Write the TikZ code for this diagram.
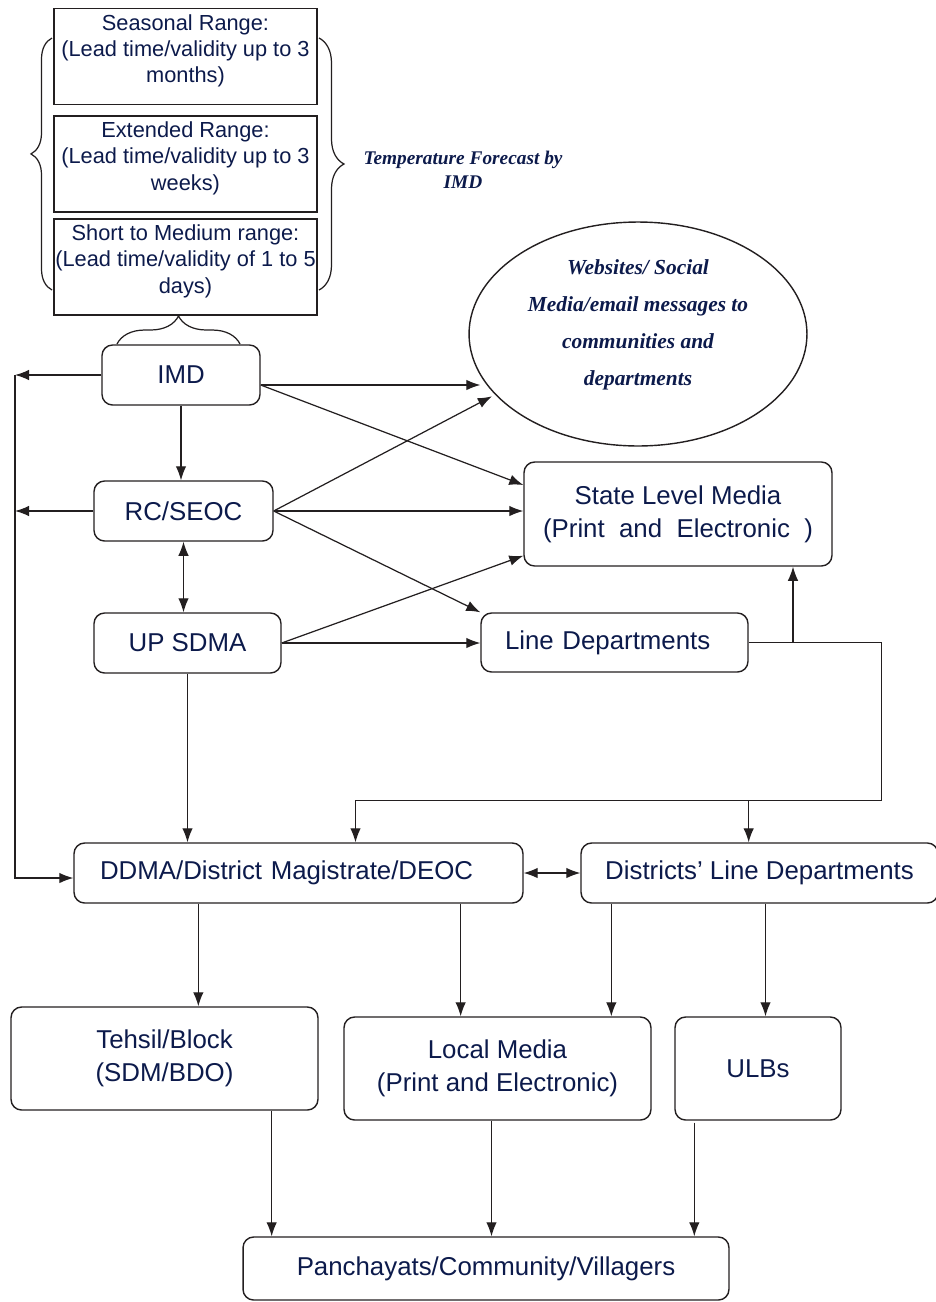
\documentclass[tikz,border=0pt]{standalone}
\usepackage{fontspec}
\setmainfont{Liberation Sans}
\newfontfamily\ovalfont{Liberation Serif}
\usepackage{xcolor}
\usetikzlibrary{calc,positioning,arrows.meta,shapes.geometric,%
    decorations.pathreplacing}
\definecolor{navy}{HTML}{0C1A4B}
\definecolor{edge}{HTML}{231F20}
\tikzstyle{line} = [draw=edge, line width=0.7pt]
\tikzset{
>={Latex[length=8pt,width=6pt]},
  rangebox/.style={
    rectangle,
    draw=edge, line width=0.8pt,
    minimum width=5.26cm,
    minimum height=1.92cm},
  rangetext/.style={
    text=navy,
    align=center,
    inner sep=3.5pt,
    font=\fontsize{12.4}{15}\selectfont},
  agency/.style={
    rectangle,
    rounded corners=6pt,
    draw=edge, line width=0.8pt,
    minimum height=1.2cm,
    text=navy,
    align=center,
    font=\fontsize{14.7}{19}\selectfont},
  leftset/.style={
    align=left,
    inner xsep=#1},
  channel/.style={
    ellipse,
    draw=edge, line width=0.8pt,
    minimum width=6.76cm,
    minimum height=4.48cm,
    inner sep=0pt},
  channeltext/.style={
    text=navy,
    align=center,
    font=\ovalfont\bfseries\itshape\fontsize{12.2}{21}\selectfont},
  tempnote/.style={
    text=navy,
    align=center,
    font=\ovalfont\bfseries\itshape\fontsize{11}{13.6}\selectfont},
  decoration={brace},
  tuborg/.style={decorate, draw=edge, line width=0.7pt},
}

\begin{document}
\begin{tikzpicture}[x=0.02cm, y=-0.02cm, node distance=0pt]
  \useasboundingbox (0,0) rectangle (936,1302);

  \node[rangebox] (seasonal) at (185.5,56.5) {};
  \node[rangebox] (extended) at (185.5,164) {};
  \node[rangebox] (shortmed) at (185.5,267) {};
  \node[rangetext, below=of seasonal.north] (seasonaltext) {Seasonal Range:\\(Lead time/validity up to 3\\months)};
  \node[rangetext, below=of extended.north] (extendedtext) {Extended Range:\\(Lead time/validity up to 3\\weeks)};
  \node[rangetext, below=of shortmed.north] (shortmedtext) {Short to Medium range:\\(Lead time/validity of 1 to 5\\days)};
  \draw[tuborg, decoration={amplitude=0.42cm, aspect=0.54}] (52,290) -- (52,38);
  \draw[tuborg, decoration={amplitude=0.5cm, aspect=0.5}] (319,38) -- (319,290);
  \draw[tuborg, decoration={amplitude=0.56cm}] (117,344) -- (240,344);
  \node[tempnote] (forecast) at (463,170) {Temperature Forecast by\\IMD};

  \node[agency, minimum width=3.16cm] (imd) at (181,375) {IMD};
  \node[agency, minimum width=3.58cm] (rcseoc) at (183.5,511) {RC/SEOC};
  \node[agency, minimum width=3.74cm] (upsdma) at (187.5,643) {UP SDMA};
  \node[channel] (websites) at (638,334) {};
  \node[channeltext] (websitestext) at ($(websites.center)+(0,-9)$) {Websites/ Social\\Media/email messages to\\communities and\\departments};
  \node[agency, minimum width=6.16cm, minimum height=2.08cm] (statemedia) at (678,514) {State Level Media\\(Print~ and~ Electronic~ )};
  \node[agency, leftset=0.48cm, text width=4.38cm, minimum height=1.18cm] (linedept) at (614.5,642.5) {Line Departments};
  \node[agency, leftset=0.52cm, text width=7.94cm] (ddma) at (298.5,873) {DDMA/District Magistrate/DEOC};
  \node[agency, minimum width=7.14cm] (dldept) at (759.5,873) {Districts' Line Departments};
  \node[agency, minimum width=6.14cm, minimum height=2.06cm] (tehsil) at (164.5,1058.5) {Tehsil/Block\\(SDM/BDO)};
  \node[agency, minimum width=6.14cm, minimum height=2.06cm] (localmedia) at (497.5,1068.5) {Local Media\\(Print and Electronic)};
  \node[agency, minimum width=3.32cm, minimum height=2.06cm] (ulbs) at (758,1068.5) {ULBs};
  \node[agency, minimum width=9.72cm, minimum height=1.26cm] (panchayats) at (486,1268.5) {Panchayats/Community/Villagers};

  \coordinate (trunk) at (15,878);
  \coordinate (imdout) at ($(imd.east)+(0,10)$);
  \coordinate (smup) at ($(statemedia.south)+(115,0)$);
  \coordinate (bus) at ($(linedept.east)+(133,158)$);
  \coordinate (ddmaleft) at ($(ddma.south west)+(125,0)$);
  \coordinate (ddmaright) at ($(ddma.south east)+(-63,0)$);
  \coordinate (dldleft) at ($(dldept.south west)+(31,0)$);
  \coordinate (dldright) at ($(dldept.south)+(6,0)$);
  \coordinate (tehsilout) at ($(tehsil.south east)+(-47,0)$);
  \coordinate (localout) at ($(localmedia.south)+(-6,0)$);
  \coordinate (ulbsout) at ($(ulbs.south west)+(20,2)$);

  \draw[line,->] (imd.west) -- (imd.west -| trunk);
  \draw[line,->] (rcseoc.west) -- (rcseoc.west -| trunk);
  \draw[line,->] (imd.west -| trunk) -- (trunk) -- (trunk -| ddma.west);
  \draw[line,->] (imd.south) -- (imd.south |- rcseoc.north);
  \draw[line,->,shorten >=4pt] (imdout) -- (imdout -| websites.199);
  \draw[line,->] (imdout) -- ($(statemedia.west)+(0,-29)$);
  \draw[line,->,shorten >=2pt] (rcseoc.east) -- (websites.203);
  \draw[line,->] (rcseoc.east) -- (rcseoc.east -| statemedia.west);
  \draw[line,->] (rcseoc.east) -- (linedept.north west);
  \draw[line,<->] (rcseoc.south) -- (rcseoc.south |- upsdma.north);
  \draw[line,->] (upsdma.east) -- ($(statemedia.south west)+(0,-11)$);
  \draw[line,->] (upsdma.east) -- (upsdma.east -| linedept.west);
  \draw[line,->] (upsdma.south) -- (upsdma.south |- ddma.north);
  \draw[line,->] (smup |- linedept.east) -- (smup);
  \draw[line,->] (linedept.east) -| (bus) -| ($(ddma.north)+(57,0)$);
  \draw[line,->] (linedept.east |- bus) -- (linedept.east |- dldept.north);
  \draw[line,<->] (ddma.east) -- (dldept.west);
  \draw[line,->] (ddmaleft) -- (ddmaleft |- tehsil.north);
  \draw[line,->] (ddmaright) -- (ddmaright |- localmedia.north);
  \draw[line,->] (dldleft) -- (dldleft |- localmedia.north);
  \draw[line,->] (dldright) -- (dldright |- ulbs.north);
  \draw[line,->] (tehsilout) -- (tehsilout |- panchayats.north);
  \draw[line,->] (localout) -- (localout |- panchayats.north);
  \draw[line,->] (ulbsout) -- (ulbsout |- panchayats.north);
\end{tikzpicture}
\end{document}
